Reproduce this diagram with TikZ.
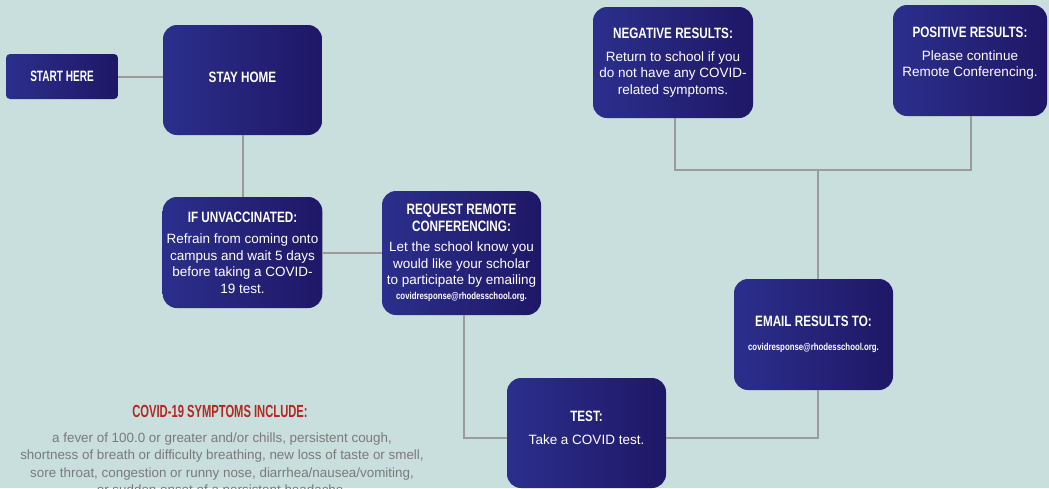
\documentclass[tikz,border=0pt]{standalone}
\usepackage{fontspec}
\setmainfont{Liberation Sans}
\newfontfamily\headfont{Liberation Sans}[FakeStretch=0.78]
\newfontfamily\startfont{Liberation Sans}[FakeStretch=0.67]
\newfontfamily\symfont{Liberation Sans}[FakeStretch=0.64]

\definecolor{bgteal}{HTML}{C9DFDD}
\definecolor{boxleft}{HTML}{2B2F8C}
\definecolor{boxright}{HTML}{1F1766}
\definecolor{linegrey}{HTML}{9B9B9B}
\definecolor{symred}{HTML}{B3281F}
\definecolor{symgrey}{HTML}{7A7A7A}

\newcommand{\boxtitle}[1]{{\headfont\bfseries\fontsize{15}{18}\selectfont #1}}
\newcommand{\boxmail}[1]{{\headfont\bfseries\fontsize{10}{13}\selectfont #1}}

\begin{document}
\begin{tikzpicture}[
    x = 1pt,
    y = -1pt,
    box/.style = {rectangle, rounded corners=14pt, left color=boxleft,
    right color=boxright, text=white, align=center, inner sep=4pt,
    font=\fontsize{13.5}{16.5}\selectfont},
    link/.style = {draw=linegrey, line width=2pt},
]

\clip (0,0) rectangle (1049,488);
\fill[bgteal] (0,0) rectangle (1049,488);

\node[box, rounded corners=4pt, minimum width=112pt, minimum height=45pt] (start) at (62,76.5){{\startfont\bfseries\fontsize{15}{18}\selectfont START HERE}};
\node[box, minimum width=159pt, minimum height=110pt] (stayhome) at (242.5,80){\boxtitle{STAY HOME}\\[-10.5pt]};
\node[box, minimum width=159pt, minimum height=111pt] (unvax) at (242.5,252.5){\boxtitle{IF UNVACCINATED:}\\[5pt]
    Refrain from coming onto\\campus and wait 5 days\\before taking a COVID-\\19 test.};
\node[box, minimum width=159pt, minimum height=124pt] (request) at (461.5,253){\boxtitle{REQUEST REMOTE}\\\boxtitle{CONFERENCING:}\\[4pt]
    Let the school know you\\would like your scholar\\to participate by emailing\\[-2pt]\boxmail{covidresponse@rhodesschool.org.}};
\node[box, minimum width=160pt, minimum height=111pt] (negative) at (673,62.5){\boxtitle{NEGATIVE RESULTS:}\\[6pt]
    Return to school if you\\do not have any COVID-\\related symptoms.};
\node[box, minimum width=154pt, minimum height=111pt] (positive) at (970,60.5){\boxtitle{POSITIVE RESULTS:}\\[6pt]
    Please continue\\Remote Conferencing.\\[0pt]};
\node[box, minimum width=159pt, minimum height=111pt] (email) at (813.5,334.5){\boxtitle{EMAIL RESULTS TO:}\\[8pt]
    \boxmail{covidresponse@rhodesschool.org.}};
\node[box, minimum width=159pt, minimum height=110pt] (test) at (586.5,433){\boxtitle{TEST:}\\[7pt]
    Take a COVID test.\\[-6.5pt]};

\coordinate (reqturn) at (464,438);
\coordinate (emailturn) at (818,438);
\coordinate (resfork) at (818,170);
\coordinate (negturn) at (675,170);
\coordinate (posturn) at (971,170);

\draw[link] (start.east) -- (start.east -| stayhome.west);
\draw[link] (stayhome) -- (unvax);
\draw[link] (unvax.east) -- (unvax.east -| request.west);
\draw[link] (request.south -| reqturn) -- (reqturn) -- (reqturn -| test.west);
\draw[link] (emailturn -| test.east) -- (emailturn) -- (emailturn |- email.south);
\draw[link] (email.north -| resfork) -- (resfork);
\draw[link] (negative.south -| negturn) -- (negturn) -- (posturn) -- (posturn |- positive.south);

% symptoms list
\node[text=symred, font=\symfont\bfseries\fontsize{17.5}{20}\selectfont] (symhead) at (220,411){COVID-19 SYMPTOMS INCLUDE:};
\node[text=symgrey, align=center, anchor=north, font=\fontsize{13.4}{17.5}\selectfont] (symlist) at (222,429){
    a fever of 100.0 or greater and/or chills, persistent cough,\\
    shortness of breath or difficulty breathing, new loss of taste or smell,\\
    sore throat, congestion or runny nose, diarrhea/nausea/vomiting,\\
    or sudden onset of a persistent headache.};

\end{tikzpicture}
\end{document}
